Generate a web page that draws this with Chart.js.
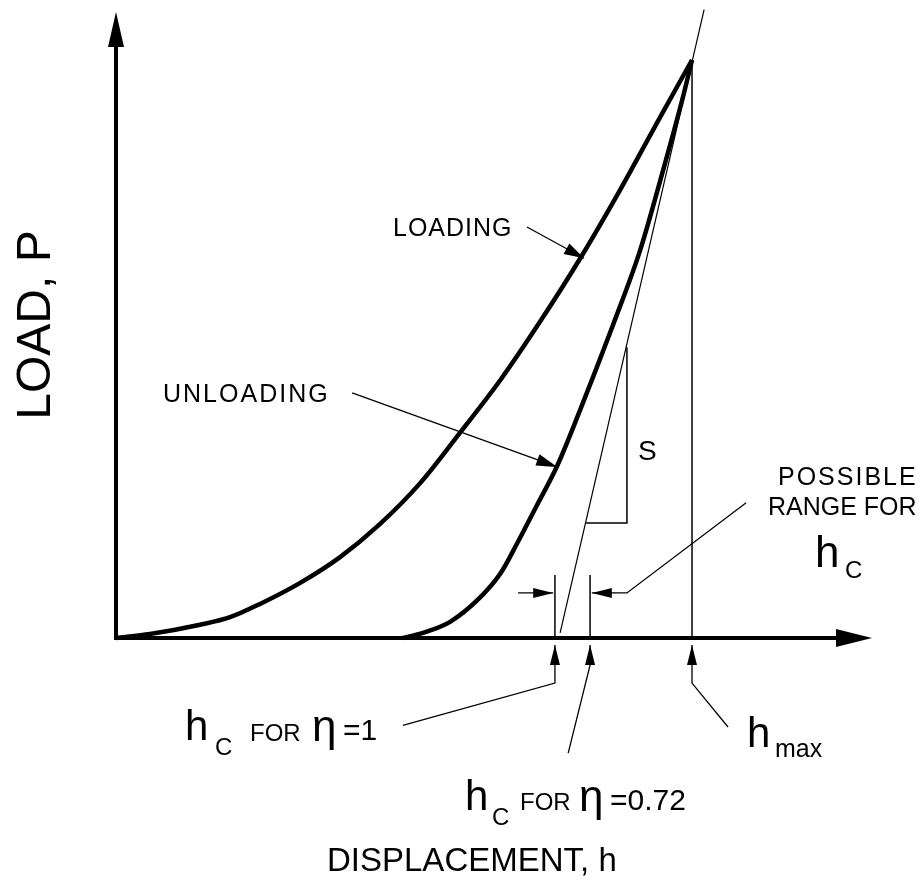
<!DOCTYPE html>
<html>
<head>
<meta charset="utf-8">
<title>Load-displacement</title>
<script src="https://cdn.jsdelivr.net/npm/chart.js@4.4.1/dist/chart.umd.min.js"></script>
<style>
  html, body { margin: 0; padding: 0; background: #fff; }
  #wrap { width: 923px; height: 882px; }
  canvas { display: block; }
</style>
</head>
<body>
<div id="wrap"><canvas id="curve" width="923" height="882"></canvas></div>
<script>
// displacement h and load P, both scaled so that hmax = Pmax = 1
var loadH = [0, 0.059, 0.146, 0.198, 0.250, 0.319, 0.389, 0.458, 0.528, 0.597, 0.667, 0.736, 0.806, 0.875, 0.944, 1.0];
var loadP = [0, 0.007, 0.023, 0.036, 0.059, 0.095, 0.140, 0.197, 0.268, 0.355, 0.446, 0.547, 0.657, 0.775, 0.900, 1.0];

var unloadH = [0.498, 0.533, 0.580, 0.630, 0.667, 0.696, 0.731, 0.766, 0.806, 0.835, 0.863, 0.910, 0.950, 0.983, 1.0];
var unloadP = [0, 0.009, 0.028, 0.068, 0.111, 0.163, 0.230, 0.298, 0.395, 0.469, 0.542, 0.671, 0.810, 0.931, 1.0];

// contact stiffness S : tangent to the top of the unloading curve
var tangentH = [0.771, 1.021];
var tangentP = [0.009, 1.087];
var slopeH = [0.816, 0.887, 0.887];
var slopeP = [0.199, 0.199, 0.503];

var hMax = 1.0;
var hcEta1 = 0.762;
var hcEta072 = 0.823;
var hcTop = 0.109;

// axis ends (arrow tips)
var axisEndH = 1.3125;
var axisEndP = 1.083;

function pts(hs, ps) {
  return hs.map(function (h, i) { return { x: h, y: ps[i] }; });
}

function line(hs, ps, width, extra) {
  var d = {
    data: pts(hs, ps),
    showLine: true,
    borderColor: '#000',
    backgroundColor: '#000',
    borderWidth: width,
    pointRadius: 0,
    fill: false
  };
  for (var k in extra) d[k] = extra[k];
  return d;
}

// leader lines with arrow heads at the last point
var leaders = [
  { h: [0.7135, 0.8125], p: [0.711, 0.657], len: 20, half: 6 },         // LOADING
  { h: [0.410, 0.766], p: [0.424, 0.296], len: 21, half: 6 },           // UNLOADING
  { h: [0.698, 0.759], p: [0.078, 0.078], len: 20, half: 5 },           // range, left
  { h: [1.094, 0.887, 0.826], p: [0.234, 0.078, 0.078], len: 20, half: 5 }, // range, right
  { h: [0.498, hcEta1, hcEta1], p: [-0.151, -0.078, -0.012], len: 20, half: 5 },
  { h: [0.785, hcEta072, hcEta072], p: [-0.199, -0.047, -0.012], len: 20, half: 5 },
  { h: [1.0625, hMax, hMax], p: [-0.154, -0.078, -0.012], len: 20, half: 5 }
];

var FONT = '"Liberation Sans", Arial, sans-serif';

// text pieces: [text, x, y, size, letter spacing]
var labels = [
  ['LOADING', 393, 236, 25, 1],
  ['UNLOADING', 163, 402, 25, 2],
  ['S', 638, 460, 28, 0],
  ['POSSIBLE', 778, 485, 25, 2],
  ['RANGE FOR', 768, 515, 25, 0],
  ['h', 815, 567, 44, 0],
  ['C', 845, 578, 24, 0],
  ['h', 185, 740, 42, 0],
  ['C', 215, 755, 24, 0],
  ['FOR', 250, 741, 24, 0],
  ['\u03B7', 312, 741, 44, 0],
  ['=1', 343, 740, 30, 0],
  ['h', 465, 810, 42, 0],
  ['C', 492, 825, 24, 0],
  ['FOR', 520, 810, 24, 0],
  ['\u03B7', 579, 811, 44, 0],
  ['=0.72', 610, 810, 30, 0],
  ['h', 747, 747, 42, 0],
  ['max', 775, 757, 25, 0],
  ['DISPLACEMENT, h', 327, 871, 33, 0]
];

function head(ctx, x0, y0, x1, y1, len, half) {
  var a = Math.atan2(y1 - y0, x1 - x0);
  ctx.beginPath();
  ctx.moveTo(x1, y1);
  ctx.lineTo(x1 - len * Math.cos(a) + half * Math.sin(a), y1 - len * Math.sin(a) - half * Math.cos(a));
  ctx.lineTo(x1 - len * Math.cos(a) - half * Math.sin(a), y1 - len * Math.sin(a) + half * Math.cos(a));
  ctx.closePath();
  ctx.fill();
}

var sketch = {
  id: 'sketch',
  afterDatasetsDraw: function (chart) {
    var ctx = chart.ctx, xs = chart.scales.x, ys = chart.scales.y;
    var ox = xs.getPixelForValue(0), oy = ys.getPixelForValue(0);
    var ex = xs.getPixelForValue(axisEndH), ey = ys.getPixelForValue(axisEndP);
    ctx.save();
    ctx.strokeStyle = '#000';
    ctx.fillStyle = '#000';

    // axes
    ctx.lineWidth = 4;
    ctx.lineCap = 'square';
    ctx.beginPath();
    ctx.moveTo(ox, ey + 30);
    ctx.lineTo(ox, oy);
    ctx.lineTo(ex - 30, oy);
    ctx.stroke();
    head(ctx, ox, oy, ox, ey, 35, 8);
    head(ctx, ox, oy, ex, oy, 36, 9);

    // leaders
    ctx.lineWidth = 1.3;
    ctx.lineCap = 'butt';
    leaders.forEach(function (l) {
      var xsP = l.h.map(function (v) { return xs.getPixelForValue(v); });
      var ysP = l.p.map(function (v) { return ys.getPixelForValue(v); });
      var n = xsP.length;
      ctx.beginPath();
      ctx.moveTo(xsP[0], ysP[0]);
      for (var i = 1; i < n; i++) ctx.lineTo(xsP[i], ysP[i]);
      ctx.stroke();
      head(ctx, xsP[n - 2], ysP[n - 2], xsP[n - 1], ysP[n - 1], l.len, l.half);
    });

    // texts
    ctx.textBaseline = 'alphabetic';
    ctx.textAlign = 'left';
    labels.forEach(function (t) {
      ctx.font = t[3] + 'px ' + FONT;
      ctx.letterSpacing = t[4] + 'px';
      ctx.fillText(t[0], t[1], t[2]);
    });
    ctx.letterSpacing = '0px';

    // vertical axis title
    ctx.translate(50, 325);
    ctx.rotate(-Math.PI / 2);
    ctx.textAlign = 'center';
    ctx.font = '48px ' + FONT;
    ctx.fillText('LOAD, P', 0, 0);
    ctx.restore();
  }
};

var ctx = document.getElementById('curve').getContext('2d');
var curveChart = new Chart(ctx, {
  type: 'scatter',
  data: {
    datasets: [
      line(loadH, loadP, 4.5, { cubicInterpolationMode: 'monotone' }),
      line(unloadH, unloadP, 4.5, { cubicInterpolationMode: 'monotone' }),
      line(tangentH, tangentP, 1.2),
      line(slopeH, slopeP, 1.5),
      line([hMax, hMax], [0, 1.0], 1.5),
      line([hcEta1, hcEta1], [0, hcTop], 1.5),
      line([hcEta072, hcEta072], [0, hcTop], 1.5)
    ]
  },
  options: {
    responsive: false,
    animation: false,
    layout: { padding: 0 },
    plugins: {
      legend: { display: false },
      tooltip: { enabled: false }
    },
    scales: {
      x: { type: 'linear', min: -0.2014, max: 1.4010, display: false },
      y: { type: 'linear', min: -0.4221, max: 1.1038, display: false }
    }
  },
  plugins: [sketch]
});
</script>
</body>
</html>
